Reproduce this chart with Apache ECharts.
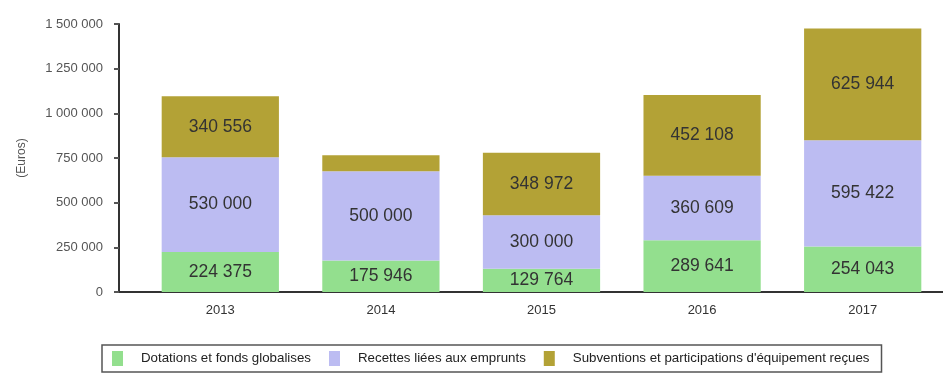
<!DOCTYPE html>
<html>
<head>
<meta charset="utf-8">
<script src="https://cdn.jsdelivr.net/npm/echarts@6/dist/echarts.min.js"></script>
<style>
  html, body { margin: 0; padding: 0; background: #fff; }
  #chart { width: 943px; height: 376px; }
</style>
</head>
<body>
<div id="chart"></div>
<script>
// Recettes d'investissement par année (en euros)
const years = ['2013', '2014', '2015', '2016', '2017'];
const dotations = [224375, 175946, 129764, 289641, 254043];
const emprunts = [530000, 500000, 300000, 360609, 595422];
const subventions = [340556, 90000, 348972, 452108, 625944];
const yTicks = [0, 250000, 500000, 750000, 1000000, 1250000, 1500000];

const seriesNames = [
  'Dotations et fonds globalises',
  'Recettes liées aux emprunts',
  "Subventions et participations d'équipement reçues"
];
const colors = ['#93df8e', '#bcbcf2', '#b3a236'];

const fmt = v => String(v).replace(/\B(?=(\d{3})+(?!\d))/g, ' ');
const FONT = 'Liberation Sans';

// segments too thin to hold their value are left unlabelled
const withLabels = arr => arr.map(v => v < 120000 ? { value: v, label: { show: false } } : v);

const makeSeries = (name, data, color) => ({
  name,
  type: 'bar',
  stack: 'total',
  barWidth: '73%',
  data: withLabels(data),
  itemStyle: { color },
  label: {
    show: true,
    position: 'inside',
    color: '#333',
    fontFamily: FONT,
    fontSize: 17.5,
    formatter: p => fmt(p.value)
  },
  emphasis: { disabled: true }
});

const chart = echarts.init(document.getElementById('chart'), null, { renderer: 'canvas' });
chart.setOption({
  animation: false,
  backgroundColor: '#fff',
  grid: { left: 140, right: 0, top: 24, bottom: 84 },
  legend: {
    left: 102,
    top: 345,
    orient: 'horizontal',
    itemWidth: 11,
    itemHeight: 15,
    itemGap: 18,
    padding: [6, 12, 6, 10],
    borderColor: '#555',
    borderWidth: 1.5,
    borderRadius: 0,
    icon: 'rect',
    textStyle: { fontFamily: FONT, fontSize: 13.3, color: '#222', padding: [0, 0, 0, 13] },
    data: seriesNames
  },
  xAxis: {
    type: 'category',
    data: years,
    axisLine: { lineStyle: { color: '#333', width: 2 } },
    axisTick: { show: false },
    axisLabel: { fontFamily: FONT, fontSize: 13, color: '#333', margin: 12 }
  },
  yAxis: {
    type: 'value',
    min: yTicks[0],
    max: yTicks[yTicks.length - 1],
    interval: yTicks[1] - yTicks[0],
    offset: 21,
    name: '(Euros)',
    nameLocation: 'middle',
    nameGap: 91,
    nameRotate: 90,
    nameTextStyle: { fontFamily: FONT, fontSize: 12, color: '#555' },
    axisLine: { show: true, lineStyle: { color: '#333', width: 2 } },
    axisTick: { show: true, length: 5, lineStyle: { color: '#555', width: 2 } },
    splitLine: { show: false },
    axisLabel: {
      fontFamily: FONT,
      fontSize: 13,
      color: '#555',
      margin: 16,
      formatter: v => fmt(v)
    }
  },
  graphic: [{
    // baseline continues left to meet the offset value axis
    type: 'line',
    shape: { x1: 118, y1: 292, x2: 141, y2: 292 },
    style: { stroke: '#333', lineWidth: 2 },
    silent: true
  }],
  series: [
    makeSeries(seriesNames[0], dotations, colors[0]),
    makeSeries(seriesNames[1], emprunts, colors[1]),
    makeSeries(seriesNames[2], subventions, colors[2])
  ]
});
</script>
</body>
</html>
